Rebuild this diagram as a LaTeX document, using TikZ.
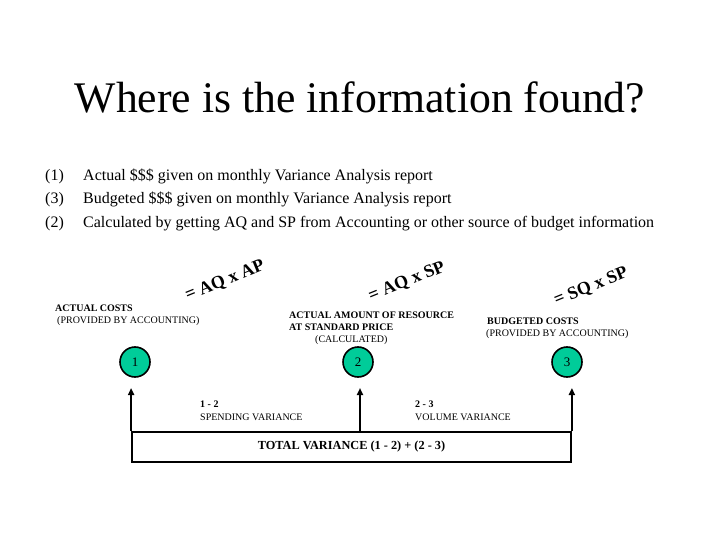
\documentclass[tikz,border=0pt]{standalone}
\usepackage{fontspec}
\setmainfont{Liberation Serif}
\usetikzlibrary{arrows.meta}
\definecolor{circfill}{RGB}{0,204,153}
\begin{document}
\begin{tikzpicture}[x=1pt,y=-1pt,
  lbl/.style={anchor=west,inner sep=0pt,font=\fontsize{10}{10}\selectfont},
  blbl/.style={anchor=west,inner sep=0pt,font=\fontsize{10}{10}\selectfont\bfseries},
  listtxt/.style={anchor=base west,inner sep=0pt,font=\fontsize{16}{16}\selectfont},
  formula/.style={inner sep=0pt,rotate=22,font=\fontsize{18}{18}\selectfont\bfseries},
  numcirc/.style={circle,draw=black,line width=1.6pt,fill=circfill,minimum size=30pt,inner sep=0pt,font=\fontsize{13}{13}\selectfont},
  conn/.style={line width=1.8pt,-{Triangle[length=7pt,width=6pt]}}
]
\useasboundingbox (0,0) rectangle (720,540);
\fill[white] (0,0) rectangle (720,540);

% title
\node[inner sep=0pt,font=\fontsize{43.7}{44}\selectfont] (title) at (360,97) {Where is the information found?};

% list
\node[listtxt] (n1) at (45,181) {(1)};
\node[listtxt] (l1) at (83,181) {Actual \$\$\$ given on monthly Variance Analysis report};
\node[listtxt] (n3) at (45,204) {(3)};
\node[listtxt] (l3) at (83,204) {Budgeted \$\$\$ given on monthly Variance Analysis report};
\node[listtxt] (n2) at (45,227) {(2)};
\node[listtxt] (l2) at (83,227) {Calculated by getting AQ and SP from Accounting or other source of budget information};

% formulas
\node[formula] (f1) at (225,281) {= AQ x AP};
\node[formula] (f2) at (407,282) {= AQ x SP};
\node[formula] (f3) at (591,287) {= SQ x SP};

% labels
\node[blbl] (ac) at (55,308) {ACTUAL COSTS};
\node[lbl] (ac2) at (57,321) {(PROVIDED BY ACCOUNTING)};
\node[blbl] (as1) at (289,315) {ACTUAL AMOUNT OF RESOURCE};
\node[blbl] (as2) at (289,327) {AT STANDARD PRICE};
\node[lbl] (as3) at (315,340) {(CALCULATED)};
\node[blbl] (bc) at (487,321) {BUDGETED COSTS};
\node[lbl] (bc2) at (486,334) {(PROVIDED BY ACCOUNTING)};

% circles
\node[numcirc] (c1) at (135,362) {1};
\node[numcirc] (c2) at (358,362) {2};
\node[numcirc] (c3) at (567,362) {3};

% variance labels
\node[blbl] (v1) at (200,404) {1 - 2};
\node[lbl] (v1b) at (200,417) {SPENDING VARIANCE};
\node[blbl] (v2) at (415,404) {2 - 3};
\node[lbl] (v2b) at (415,417) {VOLUME VARIANCE};

% total box
\node[draw=black,line width=1.8pt,minimum width=439pt,minimum height=30pt,inner sep=0pt,
      font=\fontsize{12.3}{12.3}\selectfont\bfseries] (total) at (351.5,447) {TOTAL VARIANCE (1 - 2) + (2 - 3)};

\coordinate (a1) at (132,388);
\coordinate (a2) at (360,388);
\coordinate (a3) at (571,388);
\coordinate (b2) at (360,432);
\draw[conn] (total.north west) -- (total.north west |- a1);
\draw[conn] (b2) -- (a2);
\draw[conn] (total.north east) -- (total.north east |- a3);
\end{tikzpicture}
\end{document}
